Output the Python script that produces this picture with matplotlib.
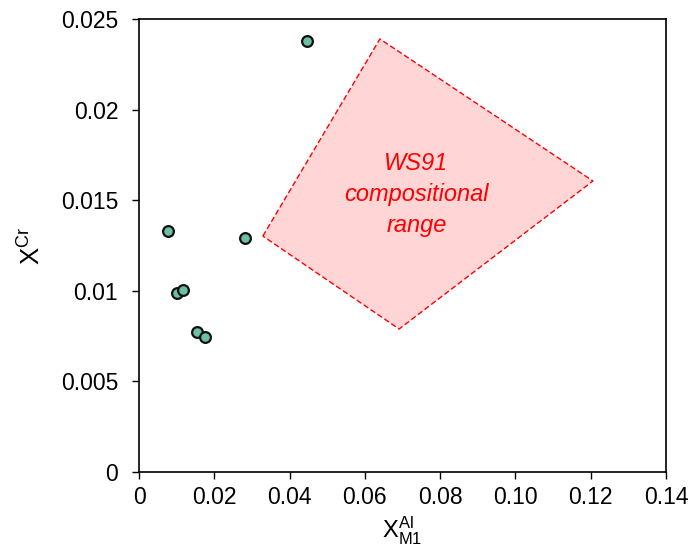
import matplotlib.pyplot as plt
from matplotlib.patches import Polygon

plt.rcParams["font.family"] = ["Liberation Sans", "DejaVu Sans"]
plt.rcParams["mathtext.fontset"] = "custom"
plt.rcParams["mathtext.rm"] = "Liberation Sans"

# measured compositions
x_al = [0.0077, 0.0101, 0.0117, 0.0154, 0.0175, 0.0282, 0.0446]
x_cr = [0.0133, 0.00990, 0.01005, 0.00773, 0.00745, 0.01292, 0.02379]

# WS91 compositional range outline
ws91_x = [0.0329, 0.0640, 0.1206, 0.0691]
ws91_y = [0.01302, 0.0239, 0.01606, 0.00789]

xticks = [0, 0.02, 0.04, 0.06, 0.08, 0.10, 0.12, 0.14]
xlabels = ["0", "0.02", "0.04", "0.06", "0.08", "0.10", "0.12", "0.14"]
yticks = [0, 0.005, 0.01, 0.015, 0.02, 0.025]
ylabels = ["0", "0.005", "0.01", "0.015", "0.02", "0.025"]

fig = plt.figure(figsize=(6.93, 5.51), dpi=100)
ax = fig.add_axes([139 / 693, (551 - 472) / 551, (666 - 139) / 693, (472 - 19) / 551])

poly = Polygon(list(zip(ws91_x, ws91_y)), closed=True, facecolor="#ffd5d6",
               edgecolor="#ff0000", linestyle=(0, (4, 2)), linewidth=1.0, zorder=1)
ax.add_patch(poly)
ax.text(0.0737, 0.0153, "WS91\ncompositional\nrange", color="#ff0000", style="italic",
        fontsize=17, ha="center", va="center", linespacing=1.45, zorder=2)

ax.scatter(x_al, x_cr, s=60, facecolor="#6dbfa3", edgecolor="#111111",
           linewidth=1.6, zorder=3)

ax.set_xlim(0, 0.14)
ax.set_ylim(0, 0.025)
ax.set_xticks(xticks)
ax.set_xticklabels(xlabels)
ax.set_yticks(yticks)
ax.set_yticklabels(ylabels)
ax.tick_params(direction="out", length=5, width=1, labelsize=16.5, colors="black")
ax.tick_params(axis="y", pad=10)
ax.tick_params(axis="x", pad=5)
for s in ax.spines.values():
    s.set_linewidth(1.2)

ax.set_xlabel(r"X$_{\mathrm{M1}}^{\mathrm{Al}}$", fontsize=17, labelpad=4)
ax.set_ylabel(r"X$^{\mathrm{Cr}}$", fontsize=18.5, labelpad=12)

fig.savefig("out.png", dpi=100)
